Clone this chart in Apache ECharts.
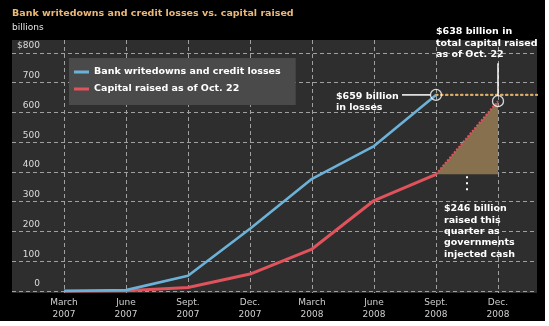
<!DOCTYPE html>
<html>
<head>
<meta charset="utf-8">
<script src="https://cdn.jsdelivr.net/npm/echarts@6/dist/echarts.min.js"></script>
<style>
  html, body { margin: 0; padding: 0; background: #ffffff; }
  #chart { width: 545px; height: 321px; }
</style>
</head>
<body>
<div id="chart"></div>
<script>
// ---- data ----
const categories = ['March\n2007', 'June\n2007', 'Sept.\n2007', 'Dec.\n2007', 'March\n2008', 'June\n2008', 'Sept.\n2008', 'Dec.\n2008'];
const lossesName = 'Bank writedowns and credit losses';
const capitalName = 'Capital raised as of Oct. 22';
const losses = [0, 3, 51, 209, 377, 487, 659];
const capital = [0, 1, 12, 57, 141, 304, 392, 638];
const yTicks = [0, 100, 200, 300, 400, 500, 600, 700, 800];
const titleText = 'Bank writedowns and credit losses vs. capital raised';
const unitText = 'billions';
const noteLosses = '$659 billion\nin losses';
const noteTotal = '$638 billion in\ntotal capital raised\nas of Oct. 22';
const noteQuarter = '$246 billion\nraised this\nquarter as\ngovernments\ninjected cash';

// ---- layout helpers ----
const xMin = -0.839, xMax = 7.629;
const yMin = -6.7, yMax = 843.5;
const FONT = 'DejaVu Sans';
const lastLoss = losses.length - 1;       // Sept. 2008
const lastCap = capital.length - 1;       // Dec. 2008

const lossData = losses.map((v, i) => [i, v]);
const capData = capital.slice(0, lastCap).map((v, i) => [i, v]);
const capExt = [[lastCap - 1, capital[lastCap - 1]], [lastCap, capital[lastCap]]];

const chart = echarts.init(document.getElementById('chart'), null, { renderer: 'canvas' });
chart.setOption({
  animation: false,
  backgroundColor: '#000000',
  textStyle: { fontFamily: FONT },
  title: {
    text: titleText,
    subtext: unitText,
    left: 12, top: 8, padding: 0, itemGap: 2,
    textStyle: { fontFamily: FONT, fontSize: 9.5, fontWeight: 'bold', color: '#ecb877', lineHeight: 12 },
    subtextStyle: { fontFamily: FONT, fontSize: 9, color: '#e6e6e6', lineHeight: 12 }
  },
  legend: {
    data: [lossesName, capitalName],
    orient: 'vertical',
    left: 69, top: 58,
    width: 220,
    backgroundColor: '#4a4a4a',
    padding: [8, 15, 10, 5],
    itemGap: 5,
    itemWidth: 15, itemHeight: 3,
    icon: 'rect',
    selectedMode: false,
    textStyle: { fontFamily: FONT, fontSize: 9.5, fontWeight: 'bold', color: '#ffffff', lineHeight: 12 }
  },
  grid: {
    left: 12, top: 40, width: 525, height: 254,
    show: true, backgroundColor: '#2e2e2e', borderWidth: 0
  },
  xAxis: {
    type: 'value', min: xMin, max: xMax,
    axisLine: { show: false },
    axisTick: { show: false, customValues: categories.map((c, i) => i) },
    axisLabel: {
      customValues: categories.map((c, i) => i),
      formatter: v => categories[Math.round(v)],
      color: '#cfcfcf', fontFamily: FONT, fontSize: 9, lineHeight: 12, margin: 4
    },
    splitLine: {
      show: true,
      customValues: categories.map((c, i) => i),
      lineStyle: { color: '#a0a0a0', type: [4, 3], width: 1 }
    }
  },
  yAxis: {
    type: 'value', min: yMin, max: yMax,
    axisLine: { show: false },
    axisTick: { show: false, customValues: yTicks },
    axisLabel: {
      customValues: yTicks,
      inside: true, margin: 28, align: 'right', verticalAlign: 'bottom',
      padding: [0, 0, 1, 0],
      formatter: v => (v === yTicks[yTicks.length - 1] ? '$' + v : String(v)),
      color: '#dcdcdc', fontFamily: FONT, fontSize: 9, lineHeight: 12
    },
    splitLine: {
      show: true,
      customValues: yTicks,
      lineStyle: { color: '#a0a0a0', type: [4, 3], width: 1 }
    }
  },
  series: [
    {
      name: 'quarter',
      type: 'custom',
      z: 1,
      silent: true,
      data: [[lastCap - 1, capital[lastCap - 1], lastCap, capital[lastCap]]],
      renderItem: function (params, api) {
        const a = api.coord([api.value(0), api.value(1)]);
        const b = api.coord([api.value(2), api.value(3)]);
        const c = api.coord([api.value(2), api.value(1)]);
        return { type: 'polygon', shape: { points: [a, b, c] }, style: { fill: '#86704e' } };
      }
    },
    {
      name: 'lossLevel',
      type: 'line',
      z: 2,
      silent: true,
      showSymbol: false,
      data: [[lastLoss, losses[lastLoss]], [xMax, losses[lastLoss]]],
      lineStyle: { color: '#d8aa66', width: 2.2, type: [1.5, 3.5], cap: 'round' }
    },
    {
      name: capitalName,
      type: 'line',
      z: 3,
      showSymbol: false,
      data: capData,
      color: '#e0525c',
      lineStyle: { color: '#e0525c', width: 3 }
    },
    {
      name: 'capExt',
      type: 'line',
      z: 3,
      showSymbol: false,
      silent: true,
      data: capExt,
      lineStyle: { color: '#e0525c', width: 2.2, type: [2, 1.5] }
    },
    {
      name: lossesName,
      type: 'line',
      z: 4,
      showSymbol: false,
      data: lossData,
      color: '#6cb2d8',
      lineStyle: { color: '#6cb2d8', width: 2.6 }
    },
    {
      name: 'circles',
      type: 'scatter',
      z: 6,
      silent: true,
      symbol: 'circle',
      symbolSize: 11,
      data: [[lastLoss, losses[lastLoss]], [lastCap, capital[lastCap]]],
      itemStyle: { color: 'rgba(0,0,0,0)', borderColor: '#ffffff', borderWidth: 1.3 }
    }
  ]
});

// ---- annotations anchored to data points ----
const pLoss = chart.convertToPixel({ gridIndex: 0 }, [lastLoss, losses[lastLoss]]);
const pTotal = chart.convertToPixel({ gridIndex: 0 }, [lastCap, capital[lastCap]]);
const pBase = chart.convertToPixel({ gridIndex: 0 }, [lastCap, capital[lastCap - 1]]);
const pMid = chart.convertToPixel({ gridIndex: 0 }, [lastCap - 0.5, capital[lastCap - 1]]);
const noteStyle = { fill: '#ffffff', font: 'bold 9.5px "DejaVu Sans"', lineHeight: 11.3 };

chart.setOption({
  graphic: [
    { type: 'text', z: 100, x: pLoss[0] - 100, y: pLoss[1] - 4.5,
      style: Object.assign({ text: noteLosses }, noteStyle) },
    { type: 'line', z: 100, shape: { x1: pLoss[0] - 34, y1: pLoss[1], x2: pLoss[0] - 5.5, y2: pLoss[1] },
      style: { stroke: '#ffffff', lineWidth: 1.5 } },
    { type: 'text', z: 100, x: pTotal[0] - 62, y: pTotal[1] - 75,
      style: Object.assign({ text: noteTotal }, noteStyle) },
    { type: 'line', z: 100, shape: { x1: pTotal[0], y1: pTotal[1] - 38, x2: pTotal[0], y2: pTotal[1] - 5.5 },
      style: { stroke: '#ffffff', lineWidth: 1.5 } },
    { type: 'text', z: 100, x: pBase[0] - 54, y: pBase[1] + 29,
      style: Object.assign({ text: noteQuarter }, noteStyle) },
    { type: 'line', z: 100, shape: { x1: pMid[0], y1: pMid[1] + 2, x2: pMid[0], y2: pMid[1] + 19 },
      style: { stroke: '#ffffff', lineWidth: 2, lineDash: [2, 4] } }
  ]
});
</script>
</body>
</html>
